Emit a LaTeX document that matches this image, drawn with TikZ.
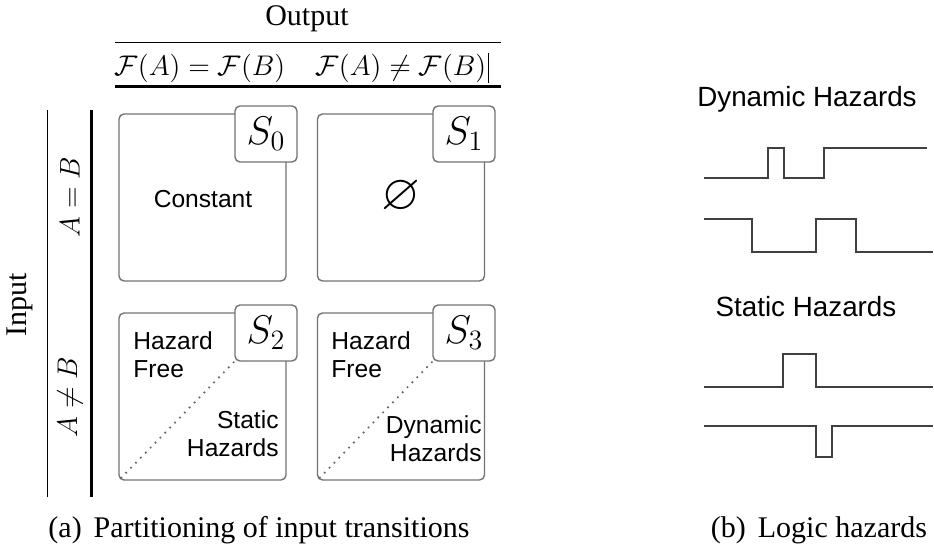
\RequirePackage{fix-cm}
\documentclass[tikz,border=0pt]{standalone}
\usepackage{amssymb}
\usepackage[no-math]{fontspec}
\setmainfont{Liberation Serif}
\setsansfont{Liberation Sans}
\begin{document}
\begin{tikzpicture}[x=0.5pt,y=-0.5pt,
  cell/.style={draw=black!55,line width=0.7pt,rounded corners=2.5pt,minimum width=83.5pt,minimum height=83.5pt,inner sep=0pt},
  tag/.style={draw=black!55,line width=0.7pt,rounded corners=2.5pt,fill=white,minimum width=31pt,minimum height=28pt,inner sep=0pt,font=\fontsize{20}{24}\selectfont},
  txt/.style={font=\sffamily\fontsize{12.3}{14}\selectfont,inner sep=0pt},
  hdr/.style={font=\sffamily\fontsize{13.9}{16}\selectfont,inner sep=0pt},
  capt/.style={font=\fontsize{15}{18}\selectfont,inner sep=0pt},
  mth/.style={font=\fontsize{14.2}{17}\selectfont,inner sep=0pt},
  wave/.style={draw=black!75,line width=0.7pt},
  dots/.style={draw=black!60,line width=1.2pt,line cap=round,dash pattern=on 0pt off 3.5pt}]
\useasboundingbox (0,0) rectangle (934,553);
% --- column header ---
\node[capt,anchor=base] (out) at (307,25) {Output};
\draw[line width=0.5pt] (115,42) -- (501,42);
\node[mth,anchor=base] (feq) at (200,75) {$\mathcal{F}(A)=\mathcal{F}(B)$};
\node[mth,anchor=base] (fne) at (401,75) {$\mathcal{F}(A)\neq\mathcal{F}(B)$};
\draw[line width=0.5pt] ([xshift=1pt]fne.north east) -- ([xshift=1pt]fne.south east);
\draw[line width=1.5pt] (115,86) -- (501,86);
% --- row header ---
\draw[line width=0.5pt] (47,110) -- (47,497);
\draw[line width=1.5pt] (91,110) -- (91,497);
\node[capt,rotate=90] (inp) at (20,305) {Input};
\node[mth,rotate=90] (req) at (70,197) {$A=B$};
\node[mth,rotate=90] (rne) at (70,397) {$A\neq B$};
% --- cells ---
\node[cell] (c0) at (202.5,197.5) {};
\node[tag] (t0) at (266,134) {$S_0$};
\node[txt,anchor=base] (l0) at (203,207) {Constant};
\node[cell] (c1) at (401,197.5) {};
\node[tag] (t1) at (464,134) {$S_1$};
\node[txt,font=\fontsize{25}{28}\selectfont] (l1) at (401,197) {$\varnothing$};
\node[cell] (c2) at (202.5,396.5) {};
\node[tag] (t2) at (266,333) {$S_2$};
\draw[dots] ([shift={(3,-3)}]c2.south west) -- (t2.south west);
\node[txt,anchor=north west,align=left] (f2) at (133,331) {Hazard\\Free};
\node[txt,anchor=north east,align=right] (h2) at (279,410) {Static\\Hazards};
\node[cell] (c3) at (401,396.5) {};
\node[tag] (t3) at (464,333) {$S_3$};
\draw[dots] ([shift={(3,-3)}]c3.south west) -- (t3.south west);
\node[txt,anchor=north west,align=left] (f3) at (331,331) {Hazard\\Free};
\node[txt,anchor=north east,align=right] (h3) at (482,415) {Dynamic\\Hazards};
\node[capt,anchor=base] (capa) at (259,537) {(a)\hspace{0.4em}Partitioning of input transitions};
% --- waveforms ---
\node[hdr,anchor=base] (dyn) at (807,106) {Dynamic Hazards};
\draw[wave] (704,178) -| (768,148) -| (784,178) -| (824,148) -- (927,148);
\draw[wave] (704,219) -| (752,252) -| (816,219) -| (856,252) -- (933,252);
\node[hdr,anchor=base] (sta) at (806,316) {Static Hazards};
\draw[wave] (704,387) -| (783,354) -| (816,387) -- (933,387);
\draw[wave] (704,426) -| (816,457) -| (832,426) -- (933,426);
\node[capt,anchor=base] (capb) at (819,537) {(b)\hspace{0.4em}Logic hazards};
\end{tikzpicture}
\end{document}
